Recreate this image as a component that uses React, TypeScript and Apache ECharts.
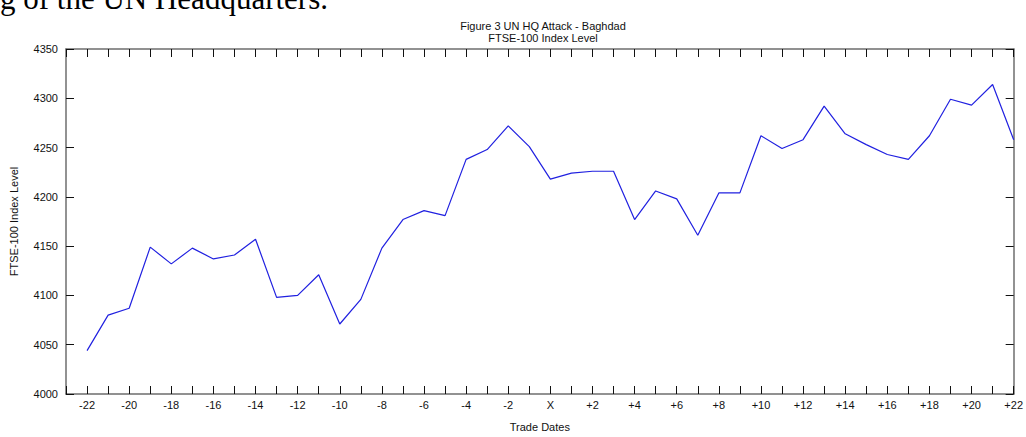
import React, { useEffect, useRef } from "react";
import * as echarts from "echarts";

const tradeDays: number[] = [
  -22, -21, -20, -19, -18, -17, -16, -15, -14, -13, -12, -11, -10, -9, -8, -7, -6, -5, -4, -3, -2, -1,
  0, 1, 2, 3, 4, 5, 6, 7, 8, 9, 10, 11, 12, 13, 14, 15, 16, 17, 18, 19, 20, 21, 22,
];
const ftseLevels: number[] = [
  4044, 4080, 4087, 4149, 4132, 4148, 4137, 4141, 4157, 4098, 4100, 4121, 4071, 4096, 4148, 4177, 4186, 4181,
  4238, 4248, 4272, 4251, 4218, 4224, 4226, 4226, 4177, 4206, 4198, 4161, 4204, 4204, 4262, 4249, 4258, 4292,
  4264, 4253, 4243, 4238, 4262, 4299, 4293, 4314, 4258,
];
const yTicks: number[] = [4000, 4050, 4100, 4150, 4200, 4250, 4300, 4350];
const titleLines: string[] = ["Figure 3 UN HQ Attack - Baghdad", "FTSE-100 Index Level"];
const xName = "Trade Dates";
const yName = "FTSE-100 Index Level";
const pageFragment = "g of the UN Headquarters.";

const SANS = '"Liberation Sans", Arial, sans-serif';

function dayLabel(v: number): string {
  if (v % 2 !== 0) return "";
  if (v === 0) return "X";
  return v > 0 ? "+" + v : String(v);
}

export default function App() {
  const ref = useRef<HTMLDivElement | null>(null);
  useEffect(() => {
    if (!ref.current) return;
    const chart = echarts.init(ref.current, null, { renderer: "svg" });
    const xMin = tradeDays[0] - 1;
    const xMax = tradeDays[tradeDays.length - 1];
    const yMin = yTicks[0];
    const yMax = yTicks[yTicks.length - 1];
    const boxLine = { show: true, onZero: false, lineStyle: { color: "#6e6e6e", width: 1.5 } };
    const tickIn = { show: true, inside: true, length: 8, lineStyle: { color: "#111", width: 1 } };
    chart.setOption({
      animation: false,
      backgroundColor: "#ffffff",
      title: {
        text: titleLines.join("\n"),
        left: 538,
        top: 15,
        textAlign: "center",
        textStyle: { fontFamily: SANS, fontSize: 11, fontWeight: "normal", color: "#111", lineHeight: 12 },
      },
      graphic: [
        {
          type: "text",
          left: 0,
          top: -17,
          style: { text: pageFragment, font: '31px "Liberation Serif", "Times New Roman", serif', fill: "#000" },
        },
      ],
      grid: { left: 62, right: 11, top: 49, bottom: 33, containLabel: false },
      xAxis: [
        {
          type: "value",
          min: xMin,
          max: xMax,
          interval: 1,
          name: xName,
          nameLocation: "middle",
          nameGap: 27,
          nameTextStyle: { fontFamily: SANS, fontSize: 11, color: "#111" },
          axisLine: boxLine,
          axisTick: tickIn,
          axisLabel: {
            formatter: (v: number) => dayLabel(v),
            fontFamily: SANS,
            fontSize: 11,
            color: "#111",
            margin: 5,
            showMinLabel: true,
            showMaxLabel: true,
          },
          splitLine: { show: false },
        },
        {
          type: "value",
          position: "top",
          min: xMin,
          max: xMax,
          interval: 1,
          axisLine: boxLine,
          axisTick: tickIn,
          axisLabel: { show: false },
          splitLine: { show: false },
        },
      ],
      yAxis: [
        {
          type: "value",
          position: "left",
          min: yMin,
          max: yMax,
          interval: 50,
          name: yName,
          nameLocation: "middle",
          nameGap: 47,
          nameTextStyle: { fontFamily: SANS, fontSize: 11, color: "#111" },
          axisLine: boxLine,
          axisTick: tickIn,
          axisLabel: { fontFamily: SANS, fontSize: 11, color: "#111", margin: 8, formatter: (v: number) => String(v) },
          splitLine: { show: false },
        },
        {
          type: "value",
          position: "right",
          min: yMin,
          max: yMax,
          interval: 50,
          axisLine: boxLine,
          axisTick: tickIn,
          axisLabel: { show: false },
          splitLine: { show: false },
        },
      ],
      series: [
        {
          type: "line",
          xAxisIndex: 0,
          yAxisIndex: 0,
          data: tradeDays.map((d, i) => [d, ftseLevels[i]]),
          showSymbol: false,
          symbol: "none",
          lineStyle: { color: "#2020e0", width: 1.2 },
          clip: false,
        },
      ],
    });
    return () => chart.dispose();
  }, []);
  return (
    <div
      ref={ref}
      style={{ position: "fixed", left: 0, top: 0, width: 1026, height: 437, background: "#fff" }}
    />
  );
}
